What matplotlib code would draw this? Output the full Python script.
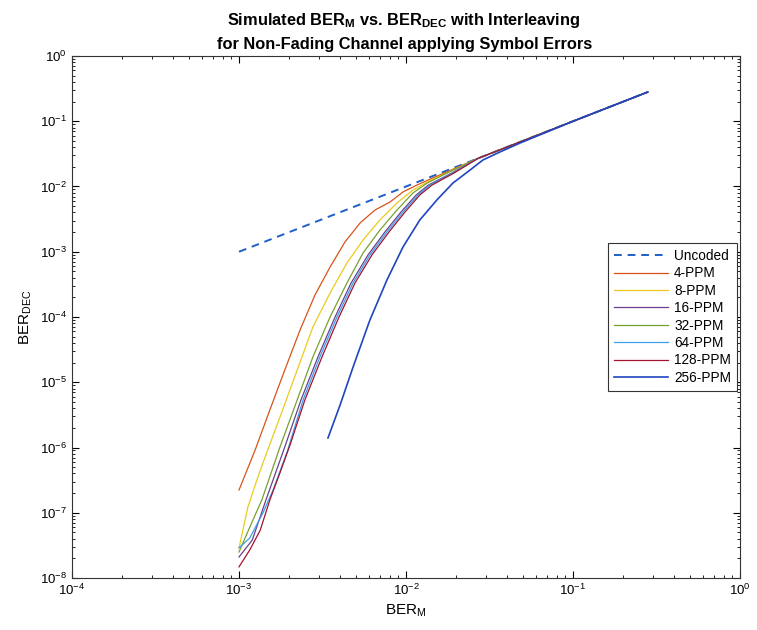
import matplotlib
matplotlib.use("Agg")
import matplotlib.pyplot as plt
import matplotlib.ticker as mticker
import numpy as np

plt.rcParams['font.family'] = ['Liberation Sans', 'DejaVu Sans']
plt.rcParams['mathtext.fontset'] = 'custom'
plt.rcParams['mathtext.rm'] = 'Liberation Sans'
plt.rcParams['mathtext.it'] = 'Liberation Sans:italic'
plt.rcParams['mathtext.bf'] = 'Liberation Sans:bold'

# ---- data ----
tail_m = [0.027, 0.05, 0.1, 0.28]
tail_dec = [0.027, 0.05, 0.1, 0.28]

uncoded_m = [1e-3, 0.28]
uncoded_dec = [1e-3, 0.28]

ppm4_m = [1.0e-3, 1.25e-3, 1.53e-3, 1.88e-3, 2.32e-3, 2.85e-3, 3.51e-3, 4.31e-3, 5.31e-3,
          6.52e-3, 8.02e-3, 9.59e-3, 1.16e-2, 1.36e-2]
ppm4_dec = [2.23e-7, 9.2e-7, 3.76e-6, 1.54e-5, 6.32e-5, 2.17e-4, 5.83e-4, 1.41e-3, 2.76e-3,
            4.36e-3, 5.78e-3, 8.24e-3, 1.05e-2, 1.26e-2]

ppm8_m = [1.0e-3, 1.13e-3, 1.28e-3, 1.39e-3, 1.76e-3, 2.23e-3, 2.77e-3, 3.51e-3, 4.43e-3,
          5.53e-3, 6.98e-3, 8.83e-3, 1.10e-2, 1.34e-2]
ppm8_dec = [2.88e-8, 1.22e-7, 3.18e-7, 5.78e-7, 2.93e-6, 1.54e-5, 7.03e-5, 2.33e-4, 6.73e-4,
            1.51e-3, 3.07e-3, 5.59e-3, 8.83e-3, 1.17e-2]

ppm16_m = [1.0e-3, 1.20e-3, 1.45e-3, 1.88e-3, 2.35e-3, 2.97e-3, 3.76e-3, 4.69e-3, 5.92e-3,
           7.48e-3, 9.33e-3, 1.15e-2, 1.36e-2, 1.88e-2]
ppm16_dec = [2.1e-8, 3.8e-8, 1.57e-7, 1.02e-6, 5.35e-6, 2.44e-5, 1.0e-4, 3.32e-4, 8.91e-4,
             2.01e-3, 4.06e-3, 7.41e-3, 1.05e-2, 1.61e-2]

ppm32_m = [1.0e-3, 1.16e-3, 1.37e-3, 1.76e-3, 2.23e-3, 2.77e-3, 3.51e-3, 4.43e-3, 5.53e-3,
           6.98e-3, 8.83e-3, 1.10e-2, 1.34e-2, 1.76e-2]
ppm32_dec = [2.5e-8, 6.0e-8, 1.57e-7, 1.02e-6, 5.35e-6, 2.44e-5, 1.0e-4, 3.32e-4, 9.57e-4,
             2.15e-3, 4.36e-3, 7.94e-3, 1.13e-2, 1.61e-2]

ppm64_m = [1.0e-3, 1.16e-3, 1.39e-3, 1.60e-3, 1.94e-3, 2.42e-3, 3.05e-3, 3.86e-3, 4.82e-3,
           6.08e-3, 7.69e-3, 9.59e-3, 1.18e-2, 1.39e-2, 1.91e-2]
ppm64_dec = [2.9e-8, 4.1e-8, 9.9e-8, 2.23e-7, 8.5e-7, 5.35e-6, 2.44e-5, 1.0e-4, 3.32e-4,
             8.91e-4, 2.01e-3, 4.06e-3, 7.41e-3, 1.05e-2, 1.61e-2]

ppm128_m = [1.0e-3, 1.16e-3, 1.34e-3, 1.53e-3, 1.76e-3, 2.02e-3, 2.48e-3, 3.14e-3, 3.97e-3,
            4.95e-3, 6.25e-3, 7.91e-3, 9.86e-3, 1.21e-2, 1.43e-2, 1.94e-2]
ppm128_dec = [1.48e-8, 2.69e-8, 5.4e-8, 1.57e-7, 4.1e-7, 1.09e-6, 5.35e-6, 2.44e-5, 1.0e-4,
              3.32e-4, 8.91e-4, 2.01e-3, 4.06e-3, 7.41e-3, 1.05e-2, 1.61e-2]

ppm256_m = [3.41e-3, 4.03e-3, 4.82e-3, 6.08e-3, 7.69e-3, 9.59e-3, 1.21e-2, 1.53e-2, 1.91e-2,
            2.42e-2, 2.89e-2, 3.65e-2, 4.82e-2, 0.1, 0.28]
ppm256_dec = [1.40e-6, 4.48e-6, 1.71e-5, 8.99e-5, 3.69e-4, 1.18e-3, 3.07e-3, 6.21e-3, 1.13e-2,
              1.79e-2, 2.55e-2, 3.38e-2, 4.64e-2, 0.1, 0.28]

labels = ['Uncoded', '4-PPM', '8-PPM', '16-PPM', '32-PPM', '64-PPM', '128-PPM', '256-PPM']
colors = ['#1f5fc8', '#D95319', '#EDC91F', '#6A3F8E', '#77A030', '#3D9FE8', '#A2142F', '#1F45C0']

fig = plt.figure(figsize=(7.57, 6.30), dpi=100)
ax = fig.add_axes([72/757, 1-578/630, 668/757, 522/630])

ax.plot(uncoded_m, uncoded_dec, '--', color=colors[0], lw=1.4, dashes=(4, 3), label=labels[0])
series = [(ppm4_m, ppm4_dec), (ppm8_m, ppm8_dec), (ppm16_m, ppm16_dec), (ppm32_m, ppm32_dec),
          (ppm64_m, ppm64_dec), (ppm128_m, ppm128_dec)]
for i, (m, d) in enumerate(series):
    ax.plot(list(m) + tail_m, list(d) + tail_dec, '-', color=colors[i+1], lw=0.9, label=labels[i+1])
ax.plot(ppm256_m, ppm256_dec, '-', color=colors[7], lw=1.2, label=labels[7])

ax.set_xscale('log')
ax.set_yscale('log')
ax.set_xlim(1e-4, 1)
ax.set_ylim(1e-8, 1)
ax.yaxis.set_major_locator(mticker.LogLocator(base=10, numticks=20))
ax.yaxis.set_minor_locator(mticker.LogLocator(base=10, subs=np.arange(2, 10), numticks=20))
ax.xaxis.set_minor_formatter(mticker.NullFormatter())
ax.yaxis.set_minor_formatter(mticker.NullFormatter())
ax.tick_params(which='both', direction='in', top=True, right=True, labelsize=9.5)
ax.tick_params(which='major', length=5)
ax.tick_params(which='minor', length=2.5)
for s in ax.spines.values():
    s.set_linewidth(0.8)
    s.set_color('#333333')

ax.set_xlabel('BER$_{\\mathregular{M}}$', fontsize=11, labelpad=3)
ax.set_ylabel('BER$_{\\mathregular{DEC}}$', fontsize=11, labelpad=4)

fig.text(404/757, 1-20/630, 'Simulated BER$_{\\mathbf{M}}$ vs. BER$_{\\mathbf{DEC}}$ with Interleaving',
         ha='center', va='center', fontsize=11.8, fontweight='bold')
fig.text(405/757, 1-44/630, 'for Non-Fading Channel applying Symbol Errors',
         ha='center', va='center', fontsize=11.8, fontweight='bold')

leg = ax.legend(loc='upper right', bbox_to_anchor=(0.996, 0.642), fontsize=9.8, frameon=True,
                fancybox=False, edgecolor='#333333', framealpha=1, handlelength=4.0,
                borderpad=0.45, labelspacing=0.25, handletextpad=0.45, borderaxespad=0)
leg.get_frame().set_linewidth(0.8)

fig.savefig('out.png', dpi=100)
